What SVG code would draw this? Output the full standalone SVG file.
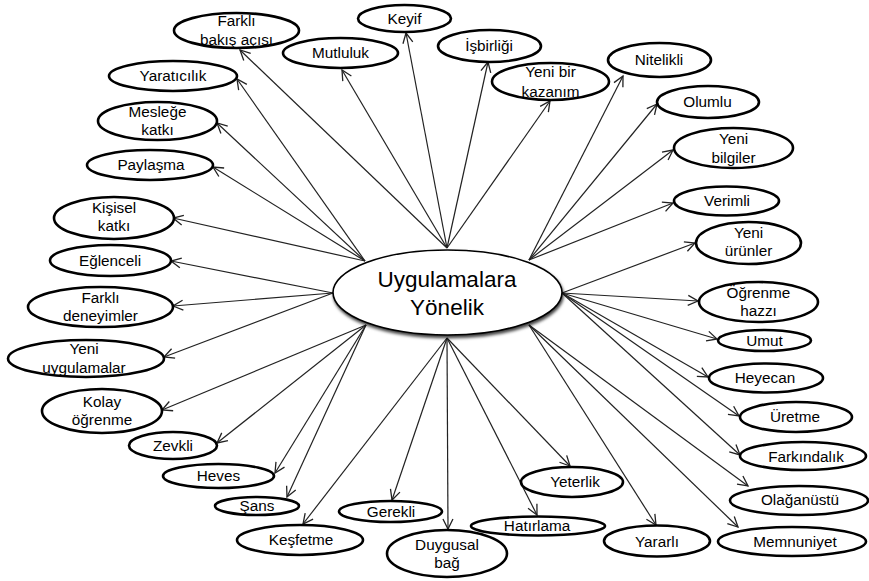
<svg xmlns="http://www.w3.org/2000/svg" width="869" height="581" viewBox="0 0 869 581">
  <defs>
    <marker id="arrow" markerUnits="userSpaceOnUse" markerWidth="14" markerHeight="14" viewBox="-12 -7 14 14" refX="0" refY="0" orient="auto">
      <path d="M -10 -5 L 0 0 L -10 5" fill="none" stroke="#222" stroke-width="1.3"/>
    </marker>
    <filter id="shadow" x="-10%" y="-10%" width="120%" height="130%">
      <feDropShadow dx="1" dy="2.5" stdDeviation="1.5" flood-color="#000" flood-opacity="0.75"/>
    </filter>
  </defs>
  <style>
    .n { fill: #fff; stroke: #000; stroke-width: 2.6; }
    .c { fill: #fff; stroke: #000; stroke-width: 1.6; }
    .t { font-family: "Liberation Sans", Arial, sans-serif; font-size: 15.3px; fill: #000; text-anchor: middle; }
    .ct { font-family: "Liberation Sans", Arial, sans-serif; font-size: 22.5px; fill: #000; text-anchor: middle; }
    #connectors line { stroke: #222; stroke-width: 1.2; marker-end: url(#arrow); }
  </style>
  <rect width="869" height="581" fill="#fff"/>

  <!-- spokes from the central node out to every satellite -->
  <g id="connectors">
    <!-- top -->
    <line x1="447" y1="248" x2="240" y2="50"/>
    <line x1="447" y1="248" x2="342" y2="70"/>
    <line x1="447" y1="248" x2="406" y2="33"/>
    <line x1="447" y1="248" x2="488" y2="62"/>
    <line x1="447" y1="248" x2="550" y2="101"/>
    <!-- upper left -->
    <line x1="365" y1="261" x2="237" y2="79"/>
    <line x1="365" y1="261" x2="217" y2="123"/>
    <line x1="365" y1="261" x2="213" y2="167"/>
    <line x1="365" y1="261" x2="173" y2="218"/>
    <!-- left -->
    <line x1="333" y1="293" x2="171" y2="261"/>
    <line x1="333" y1="293" x2="173" y2="306"/>
    <line x1="333" y1="293" x2="164" y2="357"/>
    <!-- lower left -->
    <line x1="366" y1="325" x2="162" y2="410"/>
    <line x1="366" y1="325" x2="217" y2="443"/>
    <line x1="366" y1="325" x2="275" y2="473"/>
    <line x1="366" y1="325" x2="287" y2="497"/>
    <!-- bottom -->
    <line x1="447" y1="338" x2="303" y2="524"/>
    <line x1="447" y1="338" x2="392" y2="500"/>
    <line x1="447" y1="338" x2="448" y2="529"/>
    <line x1="447" y1="338" x2="537" y2="515"/>
    <line x1="447" y1="338" x2="570" y2="466"/>
    <!-- lower right -->
    <line x1="529" y1="325" x2="656" y2="525"/>
    <line x1="529" y1="325" x2="738" y2="527"/>
    <line x1="529" y1="325" x2="748" y2="486"/>
    <!-- right -->
    <line x1="562" y1="293" x2="695" y2="243"/>
    <line x1="562" y1="293" x2="698" y2="301"/>
    <line x1="562" y1="293" x2="717" y2="339"/>
    <line x1="562" y1="293" x2="708" y2="377"/>
    <line x1="562" y1="293" x2="739" y2="416"/>
    <line x1="562" y1="293" x2="740" y2="455"/>
    <!-- upper right -->
    <line x1="529" y1="260" x2="623" y2="76"/>
    <line x1="529" y1="260" x2="657" y2="104"/>
    <line x1="529" y1="260" x2="673" y2="150"/>
    <line x1="529" y1="260" x2="673" y2="203"/>
  </g>

  <g id="center">
    <ellipse class="c" cx="447.5" cy="292.5" rx="114.5" ry="42.5" filter="url(#shadow)"/>
    <text class="ct" x="447" y="287">Uygulamalara</text>
    <text class="ct" x="447" y="315">Yönelik</text>
  </g>

  <g id="farkli-bakis-acisi">
    <ellipse class="n" cx="236.5" cy="30.5" rx="62.5" ry="17.5"/>
    <text class="t" x="236.5" y="26">Farklı</text>
    <text class="t" x="236.5" y="45">bakış açısı</text>
  </g>
  <g id="yaraticilik">
    <ellipse class="n" cx="173" cy="76" rx="64" ry="15"/>
    <text class="t" x="173" y="81">Yaratıcılık</text>
  </g>
  <g id="meslege-katki">
    <ellipse class="n" cx="157.5" cy="121" rx="59.5" ry="19"/>
    <text class="t" x="157.5" y="117">Mesleğe</text>
    <text class="t" x="157.5" y="135">katkı</text>
  </g>
  <g id="paylasma">
    <ellipse class="n" cx="150" cy="165" rx="63" ry="15"/>
    <text class="t" x="151" y="170">Paylaşma</text>
  </g>
  <g id="kisisel-katki">
    <ellipse class="n" cx="114" cy="218" rx="60" ry="21"/>
    <text class="t" x="114" y="213">Kişisel</text>
    <text class="t" x="114" y="231">katkı</text>
  </g>
  <g id="eglenceli">
    <ellipse class="n" cx="110.5" cy="260.5" rx="60.5" ry="15.5"/>
    <text class="t" x="110" y="265.5">Eğlenceli</text>
  </g>
  <g id="farkli-deneyimler">
    <ellipse class="n" cx="100.5" cy="307" rx="72.5" ry="20"/>
    <text class="t" x="100.5" y="303">Farklı</text>
    <text class="t" x="100.5" y="321">deneyimler</text>
  </g>
  <g id="yeni-uygulamalar">
    <ellipse class="n" cx="86" cy="358.5" rx="78" ry="18.5"/>
    <text class="t" x="84" y="354">Yeni</text>
    <text class="t" x="84" y="373">uygulamalar</text>
  </g>
  <g id="kolay-ogrenme">
    <ellipse class="n" cx="102" cy="411" rx="60" ry="22"/>
    <text class="t" x="102" y="407">Kolay</text>
    <text class="t" x="102" y="425">öğrenme</text>
  </g>
  <g id="zevkli">
    <ellipse class="n" cx="173" cy="445.5" rx="44" ry="13.5"/>
    <text class="t" x="173" y="450.5">Zevkli</text>
  </g>
  <g id="heves">
    <ellipse class="n" cx="218.5" cy="476" rx="55.5" ry="12"/>
    <text class="t" x="218.5" y="481">Heves</text>
  </g>
  <g id="sans">
    <ellipse class="n" cx="257" cy="506" rx="42" ry="9"/>
    <text class="t" x="257" y="510.5">Şans</text>
  </g>
  <g id="kesfetme">
    <ellipse class="n" cx="300" cy="540" rx="63" ry="15"/>
    <text class="t" x="301" y="545">Keşfetme</text>
  </g>
  <g id="gerekli">
    <ellipse class="n" cx="390.5" cy="511.5" rx="51.5" ry="10.5"/>
    <text class="t" x="391" y="516.5">Gerekli</text>
  </g>
  <g id="duygusal-bag">
    <ellipse class="n" cx="447" cy="553.5" rx="60" ry="23.5"/>
    <text class="t" x="447" y="550">Duygusal</text>
    <text class="t" x="447" y="567.5">bağ</text>
  </g>
  <g id="hatirlama">
    <ellipse class="n" cx="538" cy="526" rx="67" ry="9.5"/>
    <text class="t" x="537" y="530.5">Hatırlama</text>
  </g>
  <g id="yeterlik">
    <ellipse class="n" cx="572" cy="482" rx="51" ry="15"/>
    <text class="t" x="575" y="487">Yeterlik</text>
  </g>
  <g id="yararli">
    <ellipse class="n" cx="657" cy="541" rx="53" ry="15.5"/>
    <text class="t" x="657" y="546.5">Yararlı</text>
  </g>
  <g id="memnuniyet">
    <ellipse class="n" cx="792" cy="541.5" rx="74" ry="14.5"/>
    <text class="t" x="795" y="546.5">Memnuniyet</text>
  </g>
  <g id="olaganustu">
    <ellipse class="n" cx="799" cy="500.5" rx="69" ry="14.5"/>
    <text class="t" x="800" y="505">Olağanüstü</text>
  </g>
  <g id="farkindalik">
    <ellipse class="n" cx="803" cy="456" rx="63" ry="14"/>
    <text class="t" x="806" y="461.5">Farkındalık</text>
  </g>
  <g id="uretme">
    <ellipse class="n" cx="796" cy="417" rx="56" ry="15"/>
    <text class="t" x="795" y="422">Üretme</text>
  </g>
  <g id="heyecan">
    <ellipse class="n" cx="766" cy="378" rx="57" ry="14.5"/>
    <text class="t" x="765" y="383">Heyecan</text>
  </g>
  <g id="umut">
    <ellipse class="n" cx="764.5" cy="340.5" rx="46.5" ry="10.5"/>
    <text class="t" x="764.5" y="345.5">Umut</text>
  </g>
  <g id="ogrenme-hazzi">
    <ellipse class="n" cx="758.5" cy="302" rx="59.5" ry="20"/>
    <text class="t" x="758.5" y="297.5">Öğrenme</text>
    <text class="t" x="758.5" y="315.5">hazzı</text>
  </g>
  <g id="yeni-urunler">
    <ellipse class="n" cx="748.5" cy="243" rx="52.5" ry="21"/>
    <text class="t" x="748.5" y="238">Yeni</text>
    <text class="t" x="748.5" y="256">ürünler</text>
  </g>
  <g id="verimli">
    <ellipse class="n" cx="726.5" cy="201" rx="52.5" ry="14.5"/>
    <text class="t" x="727" y="206">Verimli</text>
  </g>
  <g id="yeni-bilgiler">
    <ellipse class="n" cx="733.5" cy="148" rx="59.5" ry="20"/>
    <text class="t" x="733.5" y="144">Yeni</text>
    <text class="t" x="733.5" y="163">bilgiler</text>
  </g>
  <g id="olumlu">
    <ellipse class="n" cx="708" cy="102" rx="51" ry="16"/>
    <text class="t" x="707.5" y="107">Olumlu</text>
  </g>
  <g id="nitelikli">
    <ellipse class="n" cx="659.5" cy="60" rx="51.5" ry="17"/>
    <text class="t" x="659" y="65">Nitelikli</text>
  </g>
  <g id="yeni-bir-kazanim">
    <ellipse class="n" cx="550.5" cy="81.5" rx="58.5" ry="18.5"/>
    <text class="t" x="550.5" y="77">Yeni bir</text>
    <text class="t" x="550.5" y="97">kazanım</text>
  </g>
  <g id="isbirligi">
    <ellipse class="n" cx="489.5" cy="46" rx="51.5" ry="16"/>
    <text class="t" x="489" y="51">İşbirliği</text>
  </g>
  <g id="keyif">
    <ellipse class="n" cx="404.5" cy="18.5" rx="46.5" ry="13.5"/>
    <text class="t" x="404.5" y="23.5">Keyif</text>
  </g>
  <g id="mutluluk">
    <ellipse class="n" cx="340.5" cy="53" rx="57.5" ry="15"/>
    <text class="t" x="340.5" y="58">Mutluluk</text>
  </g>
</svg>
